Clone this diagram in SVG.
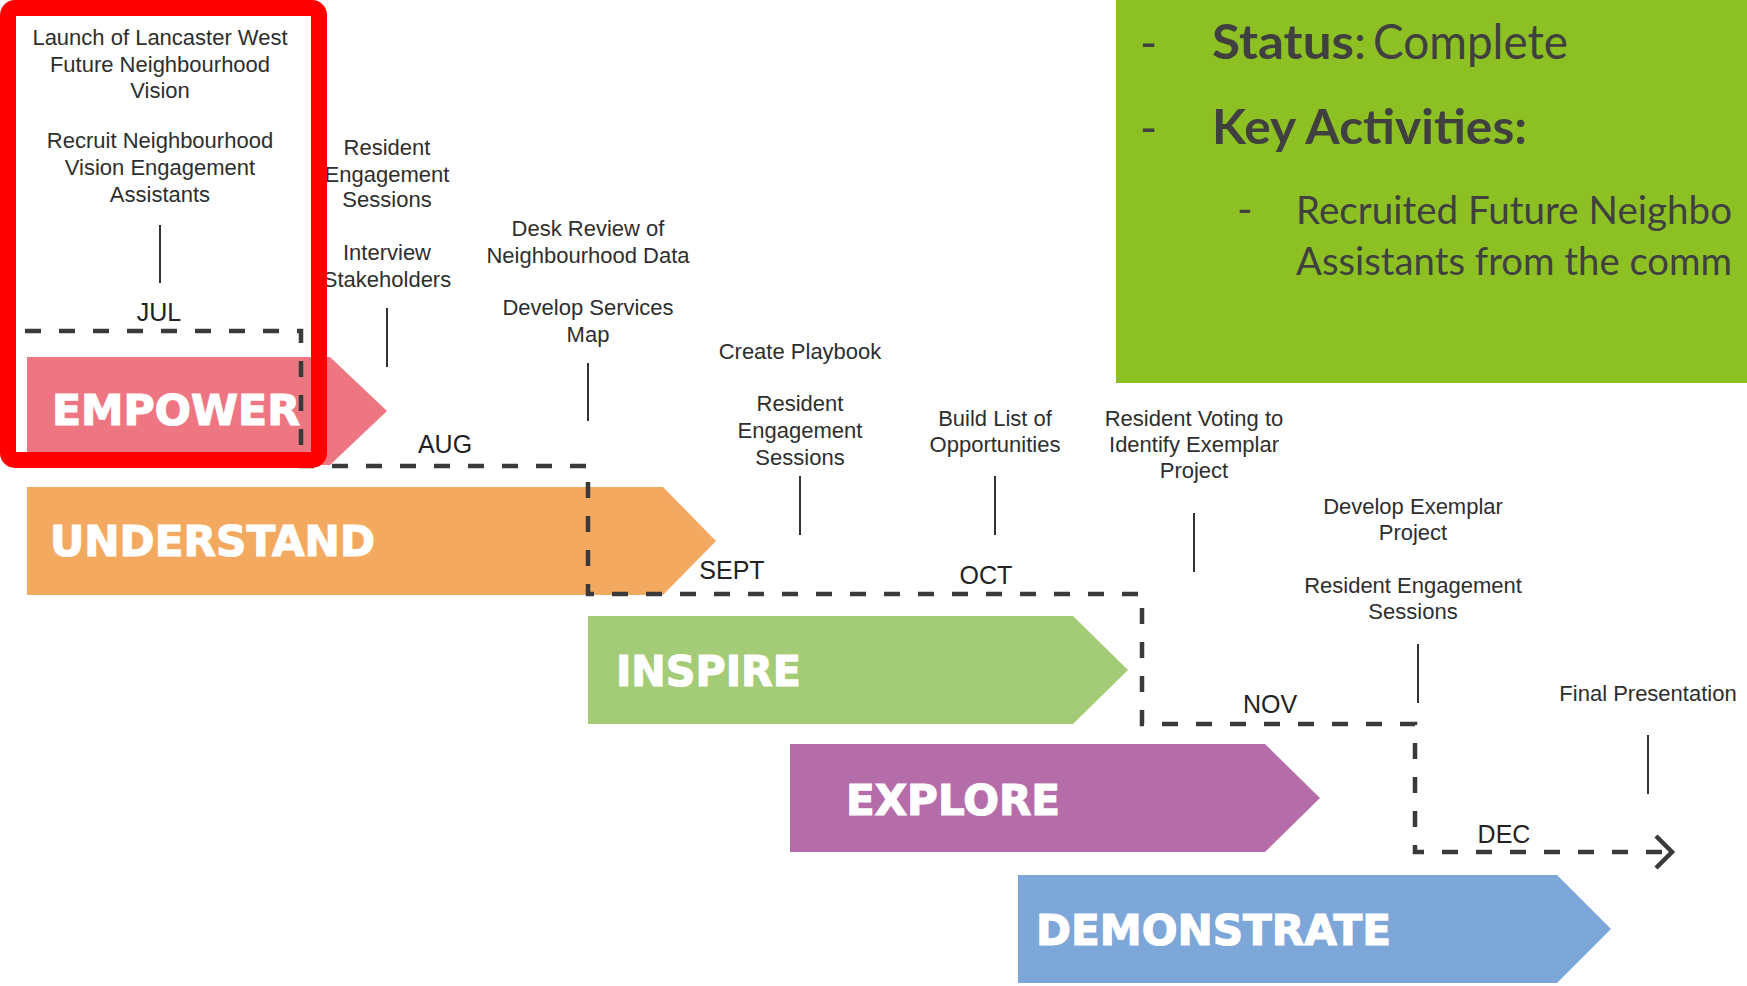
<svg xmlns="http://www.w3.org/2000/svg" width="1747" height="986" viewBox="0 0 1747 986">
<style>
.act{font-family:"Liberation Sans",Arial,sans-serif;font-size:22px;fill:#2e2e2e;text-anchor:middle}
.mon{font-family:"Liberation Sans",Arial,sans-serif;font-size:25px;fill:#222;text-anchor:middle}
.ph{font-family:"DejaVu Sans","Open Sans",sans-serif;font-weight:bold;font-size:43px;fill:#fff;stroke:#fff;stroke-width:1.2}
.tick{stroke:#333;stroke-width:2;fill:none}
.dash{stroke:#3a3a3a;stroke-width:4.5;fill:none;stroke-dasharray:16 18}
.gb{font-family:Lato,"Open Sans",sans-serif;fill:#404040}
</style>
<rect width="1747" height="986" fill="#fff"/>
<g id="empower"><polygon points="27,357 330,357 387,411 330,465 27,465" fill="#EE7683"/><text class="ph" x="52" y="425" textLength="248" lengthAdjust="spacingAndGlyphs">EMPOWER</text></g>
<g id="understand"><polygon points="27,487 663,487 716,541 663,595 27,595" fill="#F4A961"/><text class="ph" x="50" y="556" textLength="325" lengthAdjust="spacingAndGlyphs">UNDERSTAND</text></g>
<g id="inspire"><polygon points="588,616 1073,616 1128,670 1073,724 588,724" fill="#A4CB76"/><text class="ph" x="616" y="686" textLength="185" lengthAdjust="spacingAndGlyphs">INSPIRE</text></g>
<g id="explore"><polygon points="790,744 1265,744 1320,798 1265,852 790,852" fill="#B56DAA"/><text class="ph" x="846" y="815" textLength="214" lengthAdjust="spacingAndGlyphs">EXPLORE</text></g>
<g id="demonstrate"><polygon points="1018,875 1557,875 1611,929 1557,983 1018,983" fill="#7DA7D9"/><text class="ph" x="1036" y="945" textLength="355" lengthAdjust="spacingAndGlyphs">DEMONSTRATE</text></g>
<g id="connectors">
<path class="dash" d="M25,331 H301 V466 H588 V594 H1142 V724 H1415 V852 H1666"/>
<path d="M1656,836 L1672,852 L1656,868" stroke="#3a3a3a" stroke-width="4.5" fill="none"/>
<line class="tick" x1="160" y1="225" x2="160" y2="283"/>
<line class="tick" x1="387" y1="308" x2="387" y2="367"/>
<line class="tick" x1="588" y1="363" x2="588" y2="421"/>
<line class="tick" x1="800" y1="476" x2="800" y2="535"/>
<line class="tick" x1="995" y1="476" x2="995" y2="535"/>
<line class="tick" x1="1194" y1="513" x2="1194" y2="572"/>
<line class="tick" x1="1418" y1="644" x2="1418" y2="703"/>
<line class="tick" x1="1648" y1="735" x2="1648" y2="794"/>
</g>
<g id="months">
<text class="mon" x="159" y="321">JUL</text>
<text class="mon" x="445" y="453">AUG</text>
<text class="mon" x="732" y="579">SEPT</text>
<text class="mon" x="986" y="584">OCT</text>
<text class="mon" x="1270" y="713">NOV</text>
<text class="mon" x="1504" y="843">DEC</text>
</g>
<g id="act-launch"><text class="act" x="160" y="45">Launch of Lancaster West</text><text class="act" x="160" y="72">Future Neighbourhood</text><text class="act" x="160" y="98">Vision</text></g>
<g id="act-recruit"><text class="act" x="160" y="148">Recruit Neighbourhood</text><text class="act" x="160" y="175">Vision Engagement</text><text class="act" x="160" y="202">Assistants</text></g>
<g id="act-res1"><text class="act" x="387" y="155">Resident</text><text class="act" x="387" y="182">Engagement</text><text class="act" x="387" y="207">Sessions</text></g>
<g id="act-interview"><text class="act" x="387" y="260">Interview</text><text class="act" x="387" y="287">Stakeholders</text></g>
<g id="act-desk"><text class="act" x="588" y="236">Desk Review of</text><text class="act" x="588" y="263">Neighbourhood Data</text></g>
<g id="act-services"><text class="act" x="588" y="315">Develop Services</text><text class="act" x="588" y="342">Map</text></g>
<g id="act-playbook"><text class="act" x="800" y="359">Create Playbook</text></g>
<g id="act-res2"><text class="act" x="800" y="411">Resident</text><text class="act" x="800" y="438">Engagement</text><text class="act" x="800" y="465">Sessions</text></g>
<g id="act-build"><text class="act" x="995" y="426">Build List of</text><text class="act" x="995" y="452">Opportunities</text></g>
<g id="act-voting"><text class="act" x="1194" y="426">Resident Voting to</text><text class="act" x="1194" y="452">Identify Exemplar</text><text class="act" x="1194" y="478">Project</text></g>
<g id="act-develop"><text class="act" x="1413" y="514">Develop Exemplar</text><text class="act" x="1413" y="540">Project</text></g>
<g id="act-res3"><text class="act" x="1413" y="593">Resident Engagement</text><text class="act" x="1413" y="619">Sessions</text></g>
<g id="act-final"><text class="act" x="1648" y="701">Final Presentation</text></g>
<g id="highlight"><rect x="8" y="8" width="311" height="452" rx="7" fill="none" stroke="#FF0000" stroke-width="16"/></g>
<g id="status-panel">
<rect x="1116" y="0" width="631" height="383" fill="#8DC022"/>
<text class="gb" x="1140" y="59" font-size="46">-</text>
<text class="gb" x="1212" y="59" font-size="48"><tspan font-weight="bold" textLength="142" lengthAdjust="spacingAndGlyphs">Status</tspan><tspan x="1354">:</tspan><tspan x="1373" textLength="195" lengthAdjust="spacingAndGlyphs">Complete</tspan></text>
<text class="gb" x="1140" y="144" font-size="46">-</text>
<text class="gb" x="1212" y="144" font-size="48" font-weight="bold" textLength="315" lengthAdjust="spacingAndGlyphs">Key Activities:</text>
<text class="gb" x="1237" y="224" font-size="42">-</text>
<text class="gb" x="1296" y="224" font-size="39" textLength="436" lengthAdjust="spacingAndGlyphs">Recruited Future Neighbo</text>
<text class="gb" x="1296" y="275" font-size="39" textLength="436" lengthAdjust="spacingAndGlyphs">Assistants from the comm</text>
</g>
</svg>
